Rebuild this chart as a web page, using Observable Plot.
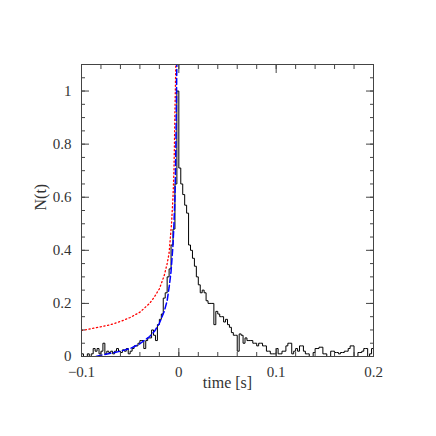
<!DOCTYPE html>
<html><head><meta charset="utf-8">
<script src="https://cdn.jsdelivr.net/npm/d3@7"></script>
<script src="https://cdn.jsdelivr.net/npm/@observablehq/plot@0.6"></script>
<style>body{margin:0;background:#fff}</style>
</head><body><div id="chart"></div>
<script>
// Histogram: bins of 0.002 s starting at -0.1 s
const binStart = -0.1;
const binWidth = 0.002;
const counts = [
  0.01,0,0,0.01,0,0.01,0.03,0.02,0.03,0.01,
  0.02,0.05,0.01,0.02,0.015,0.02,0.01,0.02,0.03,0.02,
  0.015,0.025,0.02,0.03,0.01,0.02,0.03,0.04,0.04,0.05,
  0.06,0.06,0.03,0.06,0.07,0.07,0.10,0.08,0.06,0.12,
  0.14,0.16,0.22,0.24,0.30,0.33,0.42,0.48,0.65,1.0,
  0.71,0.65,0.61,0.57,0.54,0.42,0.40,0.37,0.34,0.30,
  0.27,0.24,0.25,0.24,0.21,0.20,0.20,0.20,0.12,0.17,
  0.16,0.15,0.15,0.13,0.14,0.12,0.11,0.09,0.08,0.08,
  0.02,0.085,0.08,0.05,0.07,0.06,0.06,0.06,0.05,0.05,
  0.04,0.05,0.05,0.04,0.04,0.02,0.02,0.01,0.01,0.01,
  0.03,0.01,0.01,0.02,0.02,0.04,0.05,0.05,0.01,0.02,
  0.03,0.02,0.04,0.04,0.02,0.01,0.01,0,0,0.015,
  0.03,0.03,0.035,0.035,0.01,0.01,0,0,0.02,0.02,
  0.015,0.015,0.01,0.015,0.015,0.02,0.02,0.03,0.04,0.04,
  0,0,0.015,0.015,0.02,0.03,0.03,0,0.01,0.03
];
// Red dotted model curve
const redT = [-0.1,-0.09,-0.08,-0.07,-0.06,-0.05,-0.04,-0.03,-0.025,-0.02,-0.015,-0.012,-0.01,-0.0075,-0.006,-0.005,-0.0045,-0.004,-0.0035,-0.003];
const redN = [0.098,0.105,0.112,0.12,0.132,0.147,0.167,0.2,0.225,0.255,0.305,0.35,0.39,0.5,0.6,0.7,0.8,0.92,1.02,1.12];
// Blue dashed model curve
const blueT = [-0.085,-0.08,-0.07,-0.06,-0.05,-0.04,-0.03,-0.025,-0.02,-0.015,-0.012,-0.01,-0.008,-0.006,-0.005,-0.004,-0.0035,-0.003,-0.0025,-0.002];
const blueN = [0.0,0.005,0.012,0.02,0.03,0.048,0.075,0.095,0.125,0.17,0.21,0.26,0.32,0.42,0.5,0.6,0.69,0.8,0.95,1.12];
// Ticks
const xMajor = [-0.1,0,0.1,0.2];
const xMinor = [-0.1,-0.08,-0.06,-0.04,-0.02,0,0.02,0.04,0.06,0.08,0.1,0.12,0.14,0.16,0.18,0.2];
const yMajor = [0,0.2,0.4,0.6,0.8,1];
const yMinor = [0,0.05,0.1,0.15,0.2,0.25,0.3,0.35,0.4,0.45,0.5,0.55,0.6,0.65,0.7,0.75,0.8,0.85,0.9,0.95,1,1.05,1.1];

const hist = counts.map((n,i)=>({t: binStart + i*binWidth, n}));
hist.push({t: binStart + counts.length*binWidth, n: counts[counts.length-1]});
const red = redT.map((t,i)=>({t, n: redN[i]}));
const blue = blueT.map((t,i)=>({t, n: blueN[i]}));

const fmt = d3.format("~g");
const font = "Liberation Serif";
const tickColor = "#444";
const textColor = "#333";
const chart = Plot.plot({
  width: 436, height: 436,
  marginLeft: 81, marginRight: 63, marginTop: 64, marginBottom: 80,
  style: {fontFamily: font, fontSize: "15px", background: "#fff", color: textColor},
  x: {domain: [-0.1, 0.2]},
  y: {domain: [0, 1.1]},
  marks: [
    Plot.line(hist, {x: "t", y: "n", curve: "step-after", stroke: "#000", strokeWidth: 1, clip: true}),
    Plot.line(red, {x: "t", y: "n", stroke: "#ff0000", strokeWidth: 1.3, strokeDasharray: "1.2,2.6", clip: true}),
    Plot.line(blue, {x: "t", y: "n", stroke: "#0000ff", strokeWidth: 1.5, strokeDasharray: "6,3", clip: true}),
    // inward ticks, all four sides
    Plot.axisX(xMinor, {anchor: "bottom", tickSize: 4, dy: -4, fill: "none", label: null, stroke: tickColor}),
    Plot.axisX(xMinor, {anchor: "top", tickSize: 4, dy: 4, fill: "none", label: null, stroke: tickColor}),
    Plot.axisX(xMajor, {anchor: "bottom", tickSize: 8, dy: -8, fill: "none", label: null, stroke: tickColor}),
    Plot.axisX(xMajor, {anchor: "top", tickSize: 8, dy: 8, fill: "none", label: null, stroke: tickColor}),
    Plot.axisY(yMinor, {anchor: "left", tickSize: 4, dx: 4, fill: "none", label: null, stroke: tickColor}),
    Plot.axisY(yMinor, {anchor: "right", tickSize: 4, dx: -4, fill: "none", label: null, stroke: tickColor}),
    Plot.axisY(yMajor, {anchor: "left", tickSize: 8, dx: 8, fill: "none", label: null, stroke: tickColor}),
    Plot.axisY(yMajor, {anchor: "right", tickSize: 8, dx: -8, fill: "none", label: null, stroke: tickColor}),
    // tick labels
    Plot.axisX(xMajor, {anchor: "bottom", tickSize: 0, tickPadding: 10, label: null, fontSize: 15, fill: textColor, tickFormat: fmt}),
    Plot.axisY(yMajor, {anchor: "left", tickSize: 0, tickPadding: 10, label: null, fontSize: 15, fill: textColor, tickFormat: fmt}),
    Plot.frame({stroke: tickColor}),
    Plot.text(["time [s]"], {frameAnchor: "bottom", dy: 31, fontSize: 16, fill: textColor, style: "letter-spacing:1px"}),
    Plot.text(["N(t)"], {frameAnchor: "left", dx: -41, rotate: -90, fontSize: 16, fill: textColor})
  ]
});
document.getElementById("chart").appendChild(chart);
</script>
</body></html>
